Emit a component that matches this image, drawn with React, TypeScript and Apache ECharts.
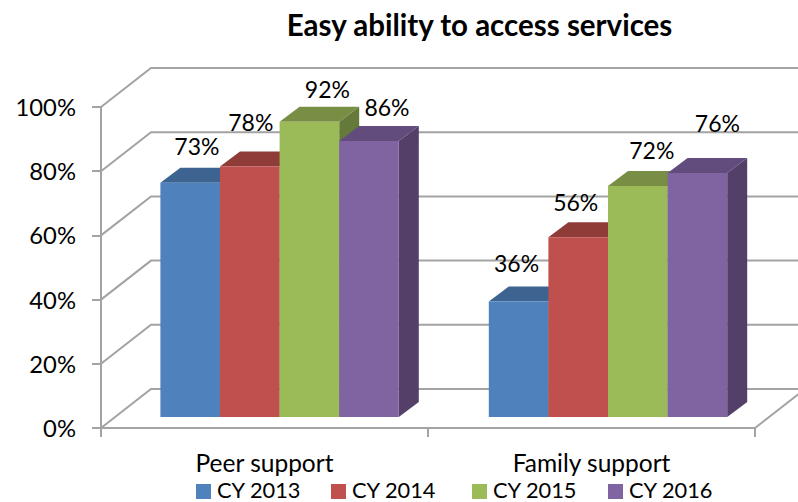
import React, { useEffect, useRef } from "react";
import * as echarts from "echarts";

const categories = ["Peer support", "Family support"];
const years = ["CY 2013", "CY 2014", "CY 2015", "CY 2016"];
const cy2013 = [73, 36];
const cy2014 = [78, 56];
const cy2015 = [92, 72];
const cy2016 = [86, 76];
const valueTicks = [0, 20, 40, 60, 80, 100];

const FONT = "Lato, sans-serif";
const GRID = "#a3a3a3";
const front = ["#4f81bd", "#c0504d", "#9bbb59", "#8064a2"];
const topFace = ["#3d6491", "#8f3c39", "#778e44", "#624c7d"];
const sideFace = ["#345578", "#7a3331", "#657a3a", "#543f68"];

// 3D projection of the plot box: wall depth and the bars' depth inside it
const WALL_DX = 50;
const WALL_DY = -39;
const BAR_W = 59.6;
const BAR_DX = 20;
const BAR_DY = -15;
const BAR_INSET_X = [15.1, 16.5];
const BAR_INSET_Y = -11;

// Hand-placed data labels: shift of each label centre from the top of its bar's front face
const labelShift = [
  [[6.7, -37], [-2, -38]],
  [[1, -45], [-2.5, -35]],
  [[18, -33], [14, -36]],
  [[18, -34], [20, -50]],
];
const legendLeft = [196, 331, 472, 608];

const wallLine = (points: number[][]) => ({
  type: "polyline",
  shape: { points },
  style: { stroke: GRID, lineWidth: 2, fill: "none" },
});

function renderWall(params: any, api: any) {
  const cs = params.coordSys;
  const y = api.coord([0, api.value(1)])[1];
  const left = cs.x;
  const right = cs.x + cs.width;
  const children: any[] = [
    wallLine([
      [left, y],
      [left + WALL_DX, y + WALL_DY],
      [right + WALL_DX, y + WALL_DY],
    ]),
  ];
  if (api.value(1) === 0) {
    children.push(wallLine([[right, y], [right + WALL_DX, y + WALL_DY]]));
  }
  return { type: "group", children };
}

const renderBar = (seriesIdx: number) => (_params: any, api: any) => {
  const cat = api.value(0);
  const val = api.value(1);
  const top = api.coord([cat, val]);
  const base = api.coord([cat, 0]);
  const x0 = top[0] + BAR_INSET_X[cat] + (seriesIdx - 2) * BAR_W;
  const x1 = x0 + BAR_W;
  const yTop = top[1] + BAR_INSET_Y;
  const yBase = base[1] + BAR_INSET_Y;
  const shift = labelShift[seriesIdx][cat];
  return {
    type: "group",
    children: [
      {
        type: "polygon",
        shape: { points: [[x1, yTop], [x1 + BAR_DX, yTop + BAR_DY], [x1 + BAR_DX, yBase + BAR_DY], [x1, yBase]] },
        style: { fill: sideFace[seriesIdx] },
      },
      {
        type: "polygon",
        shape: { points: [[x0, yTop], [x0 + BAR_DX, yTop + BAR_DY], [x1 + BAR_DX, yTop + BAR_DY], [x1, yTop]] },
        style: { fill: topFace[seriesIdx] },
      },
      {
        type: "rect",
        shape: { x: x0, y: yTop, width: BAR_W, height: yBase - yTop },
        style: { fill: front[seriesIdx] },
      },
      {
        type: "text",
        style: {
          x: (x0 + x1) / 2 + shift[0],
          y: yTop + shift[1],
          text: `${val}%`,
          font: `23px ${FONT}`,
          fill: "#000",
          align: "center",
          verticalAlign: "middle",
        },
      },
    ],
  };
};

const seriesValues = [cy2013, cy2014, cy2015, cy2016];

// Swatches and their captions sit at slightly different heights, so each is its own legend
const legendSwatches = years.map((name, i) => ({
  data: [{ name, icon: "rect" }],
  left: legendLeft[i],
  top: 484,
  padding: 0,
  itemWidth: 15,
  itemHeight: 15,
  formatter: () => "",
}));
const legendCaptions = years.map((name, i) => ({
  data: [{ name, icon: "rect" }],
  left: legendLeft[i],
  top: 478.7,
  padding: 0,
  itemWidth: 15,
  itemHeight: 15,
  itemStyle: { opacity: 0 },
  textStyle: { fontFamily: FONT, fontSize: 21.8, lineHeight: 20, color: "#000", padding: [0, 0, 0, 1] },
}));

export default function App() {
  const ref = useRef<HTMLDivElement>(null);

  useEffect(() => {
    document.body.style.margin = "0";
    const chart = echarts.init(ref.current!, undefined, { renderer: "svg" });
    chart.setOption({
      animation: false,
      title: {
        text: "Easy ability to access services",
        left: 474.5,
        top: 4,
        textAlign: "center",
        textStyle: { fontFamily: FONT, fontSize: 29.5, fontWeight: "bold", color: "#000" },
      },
      legend: [...legendSwatches, ...legendCaptions],
      grid: { left: 101, top: 107, width: 654, height: 321 },
      xAxis: {
        type: "category",
        data: categories,
        boundaryGap: true,
        axisLine: { lineStyle: { color: GRID, width: 2 } },
        axisTick: { show: true, length: 9, lineStyle: { color: GRID, width: 2 } },
        axisLabel: { fontFamily: FONT, fontSize: 24.5, color: "#000", margin: 22 },
      },
      yAxis: {
        type: "value",
        min: 0,
        max: 100,
        interval: 20,
        axisLine: { show: true, lineStyle: { color: GRID, width: 2 } },
        axisTick: { show: true, length: 9, lineStyle: { color: GRID, width: 2 } },
        splitLine: { show: false },
        axisLabel: { fontFamily: FONT, fontSize: 23.8, color: "#000", margin: 25, formatter: "{value}%" },
      },
      series: [
        {
          type: "custom",
          name: "walls",
          renderItem: renderWall,
          data: valueTicks.map((v) => [0, v]),
          encode: { x: 0, y: 1 },
          silent: true,
          z: 1,
        },
        ...years.map((name, i) => ({
          type: "custom",
          name,
          renderItem: renderBar(i),
          data: seriesValues[i].map((v, c) => [c, v]),
          encode: { x: 0, y: 1 },
          itemStyle: { color: front[i] },
          z: 2 + i,
        })),
      ],
    });
    return () => chart.dispose();
  }, []);

  return <div ref={ref} style={{ width: 798, height: 502 }} />;
}
